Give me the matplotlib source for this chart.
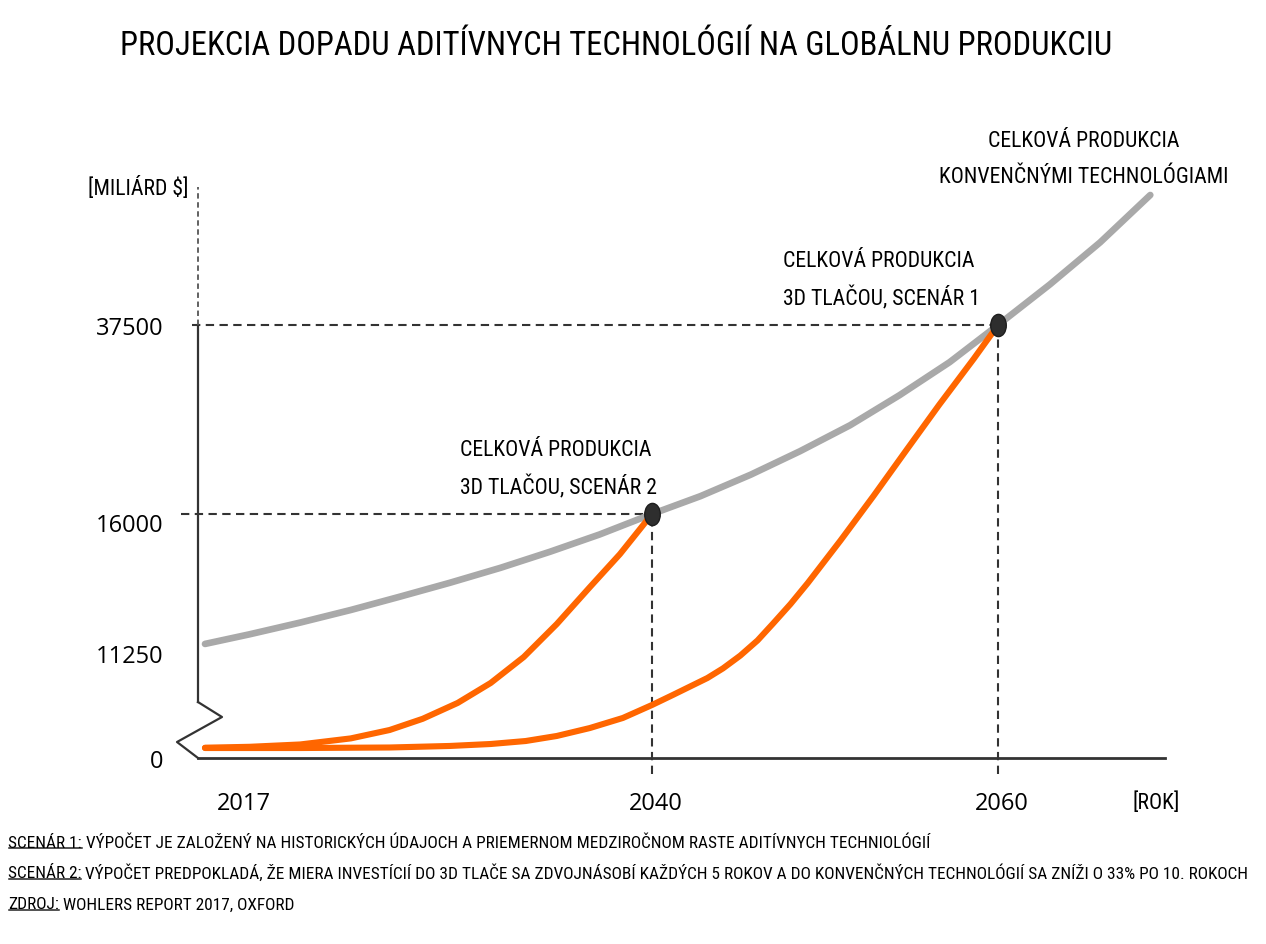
import numpy as np
import matplotlib
matplotlib.use('Agg')
import matplotlib.pyplot as plt
from matplotlib import font_manager
from matplotlib.path import Path
from matplotlib.lines import Line2D
from matplotlib.transforms import ScaledTranslation

# --- data ---
roky_konv = [2017, 2019.3, 2021.9, 2024.5, 2027.0, 2029.6, 2032.2, 2034.75, 2037.3, 2040,
             2042.8, 2045.7, 2048.55, 2051.45, 2054.3, 2057.2, 2060, 2063.0, 2065.9, 2068.8]
konv = [11560, 11890, 12290, 12720, 13170, 13650, 14160, 14710, 15300, 16000,
        18030, 20470, 23140, 26100, 29510, 33270, 37500, 42120, 46900, 52290]

roky_s2 = [2017, 2019.3, 2021.9, 2024.5, 2026.5, 2028.2, 2030.0, 2031.7, 2033.4,
           2035.1, 2036.8, 2038.35, 2040]
scenar2 = [1100, 1200, 1450, 2100, 3000, 4200, 5900, 8040, 10820,
           12240, 13500, 14630, 16000]

roky_s1 = [2017, 2021.9, 2026.5, 2029.6, 2031.7, 2033.5, 2035.1, 2036.8, 2038.5, 2040,
           2041.2, 2043.2, 2044.1, 2045.1, 2046.1, 2047.0, 2048.0, 2049.0, 2050.9,
           2052.8, 2054.7, 2056.6, 2058.6, 2060]
scenar1 = [1070, 1070, 1125, 1290, 1500, 1820, 2360, 3210, 4290, 5680,
           6750, 8570, 9600, 10970, 11680, 12260, 12920, 13640, 15100,
           18050, 23260, 28430, 33670, 37500]

body_roky = [2040, 2060]
body_hodnoty = [16000, 37500]
body_popisy = ["CELKOVÁ PRODUKCIA\n3D TLAČOU, SCENÁR 2",
               "CELKOVÁ PRODUKCIA\n3D TLAČOU, SCENÁR 1"]
popis_konv = "CELKOVÁ PRODUKCIA\nKONVENČNÝMI TECHNOLÓGIAMI"

x_ticky = [2017, 2040, 2060]
y_ticky = [0, 11250, 16000, 37500]

titulok = "PROJEKCIA DOPADU ADITÍVNYCH TECHNOLÓGIÍ NA GLOBÁLNU PRODUKCIU"
poznamky = [
    ("SCENÁR 1:", " VÝPOČET JE ZALOŽENÝ NA HISTORICKÝCH ÚDAJOCH A PRIEMERNOM "
                  "MEDZIROČNOM RASTE ADITÍVNYCH TECHNIOLÓGIÍ"),
    ("SCENÁR 2:", " VÝPOČET PREDPOKLADÁ, ŽE MIERA INVESTÍCIÍ DO 3D TLAČE SA ZDVOJNÁSOBÍ "
                  "KAŽDÝCH 5 ROKOV A DO KONVENČNÝCH TECHNOLÓGIÍ SA ZNÍŽI O 33% PO 10. ROKOCH"),
    ("ZDROJ:", " WOHLERS REPORT 2017, OXFORD"),
]

ORANZ = '#ff6600'
SIVA = '#a9a9a9'
TMAVA = '#333333'


def vyber_font(kandidati):
    for k in kandidati:
        try:
            font_manager.findfont(font_manager.FontProperties(family=k),
                                  fallback_to_default=False)
            return k
        except ValueError:
            pass
    return 'DejaVu Sans'


UZKY = vyber_font(['Liberation Sans Narrow', 'Roboto Condensed', 'Open Sans Condensed'])
CISLA = vyber_font(['Open Sans', 'Noto Sans'])
plt.rcParams['font.family'] = [CISLA, 'DejaVu Sans']


# piecewise linear axes (the original chart is a schematic, axes are not linear)
def po_castiach(v, xs, ys):
    v = np.asarray(v, float)
    s0 = (ys[1] - ys[0]) / (xs[1] - xs[0])
    s1 = (ys[-1] - ys[-2]) / (xs[-1] - xs[-2])
    return np.where(v < xs[0], ys[0] + (v - xs[0]) * s0,
                    np.where(v > xs[-1], ys[-1] + (v - xs[-1]) * s1,
                             np.interp(v, xs, ys)))


x_pos = [205, 652, 998]
y_pos = [0, 105, 244, 433]

fig = plt.figure(figsize=(12.66, 9.45), dpi=100)
ax = fig.add_axes([198 / 1266, 186 / 945, 967 / 1266, 571 / 945])
ax.set_xscale('function', functions=(lambda v: po_castiach(v, x_ticky, x_pos),
                                     lambda p: po_castiach(p, x_pos, x_ticky)))
ax.set_yscale('function', functions=(lambda v: po_castiach(v, y_ticky, y_pos),
                                     lambda p: po_castiach(p, y_pos, y_ticky)))
ax.set_xlim(2016.64, 2069.65)
ax.set_ylim(0, 53200)

# curves
ax.plot(roky_konv, konv, color=SIVA, lw=4.8, solid_capstyle='round',
        solid_joinstyle='round', zorder=2)
for r, h in [(roky_s2, scenar2), (roky_s1, scenar1)]:
    ax.plot(r, h, color=ORANZ, lw=4.4, solid_capstyle='round',
            solid_joinstyle='round', zorder=3)

# reference dashed lines
ciar = dict(color=TMAVA, lw=1.5, dashes=(4, 2.6), clip_on=False, zorder=1)
for rok, hod, x0 in zip(body_roky, body_hodnoty, [2015.75, 2016.33]):
    ax.plot([x0, rok], [hod, hod], **ciar)
    ax.plot([rok, rok], [-1700, hod], **ciar)

# highlighted points (slightly tall ellipses)
kruh = Path.unit_circle()
elipsa = Path(kruh.vertices * [0.7, 1.0], kruh.codes)
ax.plot(body_roky, body_hodnoty, linestyle='none', marker=elipsa, markersize=16,
        markerfacecolor='#2e2e2e', markeredgecolor='#1e1e1e', markeredgewidth=1, zorder=5)

# axis lines with break
for s in ['top', 'right', 'left']:
    ax.spines[s].set_visible(False)
ax.spines['bottom'].set_color(TMAVA)
ax.spines['bottom'].set_linewidth(2)
ytr = ax.get_yaxis_transform()
y_zlom = ax.transData.inverted().transform(ax.transAxes.transform((0, 0.098)))[1]
ax.plot([0, 0], [y_zlom, 37500], color=TMAVA, lw=1.6, transform=ytr, clip_on=False)
ax.plot([0, 0], [37500, 53200], color='#555555', lw=1.3, dashes=(3, 2),
        transform=ytr, clip_on=False)
ax.plot([0, 0.0248, -0.0217, 0], [0.098, 0.0718, 0.028, 0], color=TMAVA, lw=1.6,
        transform=ax.transAxes, clip_on=False)

# ticks
ax.set_xticks(x_ticky)
ax.set_xticklabels([str(r) for r in x_ticky])
ax.set_yticks(y_ticky)
ax.set_yticklabels([str(v) for v in y_ticky])
ax.minorticks_off()
ax.tick_params(axis='both', length=0, labelsize=17, colors='black')
ax.tick_params(axis='y', pad=25)
ax.tick_params(axis='x', pad=24)
lab = ax.get_xticklabels()
lab[0].set_transform(lab[0].get_transform() + ScaledTranslation(0.39, 0, fig.dpi_scale_trans))
for l in lab[1:]:
    l.set_transform(l.get_transform() + ScaledTranslation(0.04, 0, fig.dpi_scale_trans))
ylab = ax.get_yticklabels()
ylab[2].set_transform(ylab[2].get_transform() + ScaledTranslation(0, -0.08, fig.dpi_scale_trans))

# texts
t_titul = fig.text(0.487, 0.951, titulok, family=[UZKY, 'DejaVu Sans'], fontsize=30,
                   ha='center', va='center')
t_y = ax.text(-0.0103, 1.0, "[MILIÁRD $]", transform=ax.transAxes, family=[UZKY],
              fontsize=20, ha='right', va='center')
t_x = ax.text(0.9907, -0.077, "[ROK]", transform=ax.transAxes, family=[UZKY],
              fontsize=20, ha='center', va='center')

popisy = []
for rok, hod, txt, dx, dy in zip(body_roky, body_hodnoty, body_popisy, [-192, -215], [11, 11]):
    popisy.append(ax.annotate(txt, (rok, hod), xytext=(dx * 0.72, dy), textcoords='offset points',
                              family=[UZKY], fontsize=20, ha='left', va='bottom',
                              linespacing=1.75))
popisy.append(ax.annotate(popis_konv, (roky_konv[-1], konv[-1]), xytext=(-48, 6),
                          textcoords='offset points', family=[UZKY], fontsize=20,
                          ha='center', va='bottom', linespacing=1.9, annotation_clip=False))

# footnotes with underlined prefix
pred = []
zvysok = []
for i, (p, r) in enumerate(poznamky):
    tp = fig.text(8 / 1266, 1 - (843 + 31 * i) / 945, p, family=[UZKY], fontsize=13,
                  ha='left', va='center')
    tr = fig.text(0, 0, r, family=[UZKY], fontsize=13, ha='left', va='bottom')
    pred.append(tp)
    zvysok.append(tr)

renderer = fig.canvas.get_renderer()


def sirka(t):
    return t.get_window_extent(renderer).width


# fit text widths to the reference
fig.canvas.draw()
t_titul.set_fontsize(t_titul.get_fontsize() * 993 / sirka(t_titul))
k = 290 / sirka(popisy[-1])
for t in popisy + [t_y, t_x]:
    t.set_fontsize(t.get_fontsize() * k)
k = 1236 / (sirka(pred[1]) + sirka(zvysok[1]))
for t in pred + zvysok:
    t.set_fontsize(t.get_fontsize() * k)
fig.canvas.draw()
inv = fig.transFigure.inverted()
for tp, tr in zip(pred, zvysok):
    bb = tp.get_window_extent(renderer)
    tr.set_position(inv.transform((bb.x1, bb.y0)))
    (x0, y0), (x1, _) = inv.transform([(bb.x0 + 1, bb.y0 + 2), (bb.x1, bb.y0 + 2)])
    fig.add_artist(Line2D([x0, x1], [y0, y0], color='#222222', lw=1.1))

fig.savefig('out.png', dpi=100)
